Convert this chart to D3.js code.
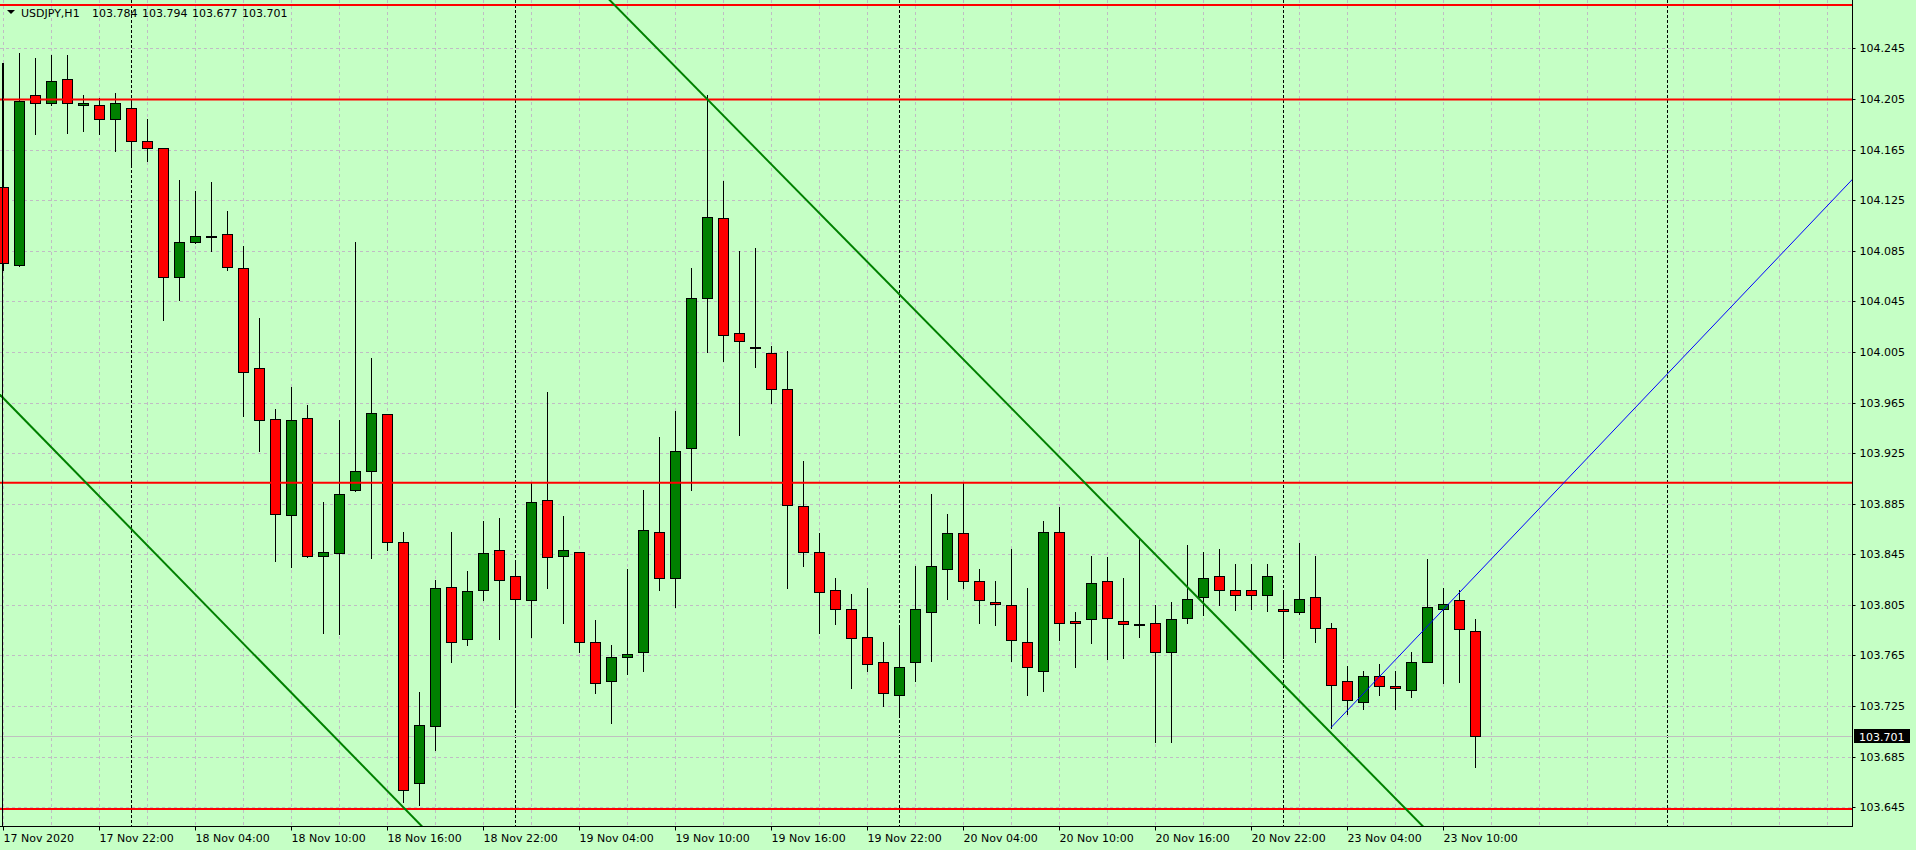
<!DOCTYPE html>
<html><head><meta charset="utf-8">
<script src="https://cdn.jsdelivr.net/npm/d3@7"></script>
<style>
html,body{margin:0;padding:0;background:#c5ffc5;overflow:hidden}
svg{display:block;font-family:"DejaVu Sans",sans-serif;font-size:11px}
</style></head><body>
<svg id="c" width="1916" height="850"></svg>
<script>
// ---------------- data ----------------
const symbol = "USDJPY,H1";
const headerValues = ["103.784", "103.794", "103.677", "103.701"];
const firstBarTime = Date.UTC(2020, 10, 17, 16); // 17 Nov 2020 16:00

const openP = [104.135,104.074,104.208,104.202,104.221,104.200,104.200,104.189,104.198,104.172,
104.166,104.064,104.092,104.097,104.098,104.071,103.992,103.952,103.876,103.953,
103.844,103.846,103.896,103.911,103.956,103.855,103.664,103.709,103.819,103.778,
103.817,103.848,103.828,103.809,103.888,103.844,103.847,103.776,103.745,103.764,
103.768,103.863,103.826,103.929,104.048,104.111,104.020,104.009,104.004,103.976,
103.883,103.847,103.817,103.802,103.780,103.760,103.734,103.760,103.799,103.833,
103.862,103.824,103.807,103.805,103.776,103.753,103.863,103.792,103.794,103.824,
103.792,103.790,103.791,103.768,103.795,103.811,103.828,103.817,103.817,103.813,
103.802,103.799,103.811,103.787,103.745,103.728,103.749,103.741,103.738,103.760,
103.802,103.809,103.784];
const highP = [104.233,104.241,104.237,104.240,104.240,104.208,104.206,104.210,104.204,104.189,
104.166,104.141,104.132,104.139,104.116,104.089,104.032,103.960,103.977,103.963,
103.886,103.951,104.092,104.000,103.956,103.863,103.736,103.825,103.863,103.832,
103.871,103.874,103.840,103.901,103.973,103.875,103.847,103.793,103.773,103.833,
103.896,103.938,103.958,104.071,104.208,104.140,104.085,104.087,104.010,104.006,
103.919,103.862,103.826,103.814,103.818,103.776,103.788,103.836,103.893,103.877,
103.901,103.833,103.824,103.849,103.818,103.871,103.882,103.799,103.844,103.843,
103.826,103.858,103.805,103.807,103.852,103.847,103.849,103.837,103.837,103.837,
103.817,103.854,103.844,103.791,103.757,103.753,103.758,103.753,103.768,103.841,
103.818,103.817,103.794];
const lowP = [104.070,104.073,104.177,104.200,104.178,104.180,104.177,104.164,104.151,104.156,
104.030,104.046,104.091,104.085,104.070,103.954,103.927,103.840,103.835,103.843,
103.783,103.782,103.895,103.842,103.848,103.649,103.647,103.690,103.760,103.773,
103.809,103.778,103.726,103.780,103.818,103.791,103.768,103.735,103.712,103.750,
103.753,103.817,103.803,103.896,104.005,103.998,103.939,103.993,103.965,103.818,
103.836,103.783,103.790,103.739,103.753,103.725,103.719,103.745,103.761,103.810,
103.818,103.791,103.789,103.761,103.734,103.737,103.777,103.756,103.775,103.762,
103.763,103.780,103.697,103.697,103.791,103.797,103.805,103.801,103.802,103.800,
103.763,103.798,103.776,103.708,103.719,103.723,103.734,103.723,103.732,103.760,
103.743,103.744,103.677];
const closeP = [104.075,104.203,104.202,104.219,104.202,104.202,104.189,104.202,104.172,104.166,
104.064,104.092,104.097,104.097,104.072,103.989,103.951,103.877,103.951,103.844,
103.847,103.893,103.911,103.957,103.855,103.659,103.710,103.818,103.776,103.816,
103.846,103.825,103.810,103.886,103.843,103.848,103.776,103.743,103.764,103.766,
103.864,103.826,103.927,104.048,104.112,104.018,104.014,104.009,103.976,103.884,
103.847,103.815,103.802,103.779,103.758,103.735,103.756,103.802,103.836,103.862,
103.824,103.809,103.806,103.777,103.756,103.863,103.791,103.791,103.822,103.795,
103.790,103.790,103.768,103.794,103.810,103.826,103.817,103.813,103.813,103.828,
103.800,103.810,103.787,103.742,103.730,103.749,103.741,103.739,103.760,103.803,
103.806,103.786,103.701];

const xTickLabels = ["17 Nov 2020","17 Nov 22:00","18 Nov 04:00","18 Nov 10:00","18 Nov 16:00",
"18 Nov 22:00","19 Nov 04:00","19 Nov 10:00","19 Nov 16:00","19 Nov 22:00","20 Nov 04:00",
"20 Nov 10:00","20 Nov 16:00","20 Nov 22:00","23 Nov 04:00","23 Nov 10:00"];
const xTickEvery = 6; // bars between labels
const yTickValues = [104.245,104.205,104.165,104.125,104.085,104.045,104.005,103.965,
103.925,103.885,103.845,103.805,103.765,103.725,103.685,103.645];

const hLevels = [104.2792, 104.2045, 103.9016, 103.6437];
const trendABars = [-0.02, 24.71], trendAPrices = [103.969, 103.649];
const trendBBars = [42.83, 85.86], trendBPrices = [104.220, 103.667];
const rayBars = [83, 91], rayPrices = [103.708, 103.8144];
const bidPrice = 103.701;

// ---------------- layout ----------------
const W = 1916, H = 850;
const plotR = 1852, plotB = 826;
const barPx = 16, firstCenterPx = 3;
const nVisibleBars = (plotR - firstCenterPx) / barPx;

const svg = d3.select("#c");
const x = d3.scaleLinear().domain([-firstCenterPx / barPx, nVisibleBars]).range([0, plotR]);
const y = d3.scaleLinear().domain([103.6302, 104.2832]).range([plotB, 0]);
const cx = i => Math.round(x(i));
const cy = p => Math.round(y(p));

const nBars = openP.length;
// bar times (hourly, skipping weekend)
const barTimes = [];
{ let t = firstBarTime; const maxBar = Math.ceil(nVisibleBars);
  for (let i = 0; i <= maxBar; i++) {
    barTimes.push(new Date(t));
    t += 3600e3;
    let d = new Date(t);
    while (d.getUTCDay() === 6 || d.getUTCDay() === 0) { t += 3600e3; d = new Date(t); }
  } }

svg.append("rect").attr("width", W).attr("height", H).attr("fill", "#c5ffc5");

const defs = svg.append("defs");
defs.append("clipPath").attr("id", "plotclip").append("rect")
  .attr("x", 0).attr("y", 0).attr("width", plotR).attr("height", plotB);

const plot = svg.append("g").attr("clip-path", "url(#plotclip)");

// grid
const gridColor = "#c0bcc4";
const vGrid = d3.range(0, Math.floor(nVisibleBars) + 1, 3);
plot.append("g").selectAll("line").data(vGrid).join("line")
  .attr("x1", d => cx(d) + 0.5).attr("x2", d => cx(d) + 0.5)
  .attr("y1", 0).attr("y2", plotB)
  .attr("stroke", gridColor).attr("stroke-dasharray", "3,3");
plot.append("g").selectAll("line").data(yTickValues).join("line")
  .attr("y1", d => cy(d) + 0.5).attr("y2", d => cy(d) + 0.5)
  .attr("x1", 0).attr("x2", plotR)
  .attr("stroke", gridColor).attr("stroke-dasharray", "3,3");

// period separators (midnight)
const sepBars = barTimes.map((t, i) => [t, i]).filter(([t]) => t.getUTCHours() === 0).map(d => d[1]);
plot.append("g").selectAll("line").data(sepBars).join("line")
  .attr("x1", d => cx(d) + 0.5).attr("x2", d => cx(d) + 0.5)
  .attr("y1", 0).attr("y2", plotB)
  .attr("stroke", "#000").attr("stroke-dasharray", "3,2");

// bid line
plot.append("line").attr("x1", 0).attr("x2", plotR)
  .attr("y1", cy(bidPrice) + 0.5).attr("y2", cy(bidPrice) + 0.5)
  .attr("stroke", "#c0c0c0");

// candles
const idx = d3.range(nBars);
const cg = plot.append("g").attr("shape-rendering", "crispEdges");
cg.selectAll("line.w").data(idx).join("line").attr("class", "w")
  .attr("x1", i => cx(i) + 0.5).attr("x2", i => cx(i) + 0.5)
  .attr("y1", i => cy(highP[i])).attr("y2", i => cy(lowP[i]) + 1)
  .attr("stroke", "#000");
cg.selectAll("rect.b").data(idx.filter(i => openP[i] !== closeP[i])).join("rect").attr("class", "b")
  .attr("x", i => cx(i) - 4.5).attr("width", 10)
  .attr("y", i => cy(Math.max(openP[i], closeP[i])) + 0.5)
  .attr("height", i => Math.max(1, cy(Math.min(openP[i], closeP[i])) - cy(Math.max(openP[i], closeP[i]))))
  .attr("fill", i => closeP[i] > openP[i] ? "#008000" : "#ff0000")
  .attr("stroke", "#000");
cg.selectAll("line.d").data(idx.filter(i => openP[i] === closeP[i])).join("line").attr("class", "d")
  .attr("x1", i => cx(i) - 5).attr("x2", i => cx(i) + 6)
  .attr("y1", i => cy(openP[i]) + 0.5).attr("y2", i => cy(openP[i]) + 0.5)
  .attr("stroke", "#000").attr("stroke-width", 2);

// horizontal levels
plot.append("g").selectAll("line").data(hLevels).join("line")
  .attr("x1", 0).attr("x2", plotR)
  .attr("y1", d => y(d)).attr("y2", d => y(d))
  .attr("stroke", "#ff0000").attr("stroke-width", 2);

// trend lines
function lineThrough(bars, prices, fromBar, toBar) {
  const s = (prices[1] - prices[0]) / (bars[1] - bars[0]);
  const f = b => prices[0] + s * (b - bars[0]);
  return [[x(fromBar), y(f(fromBar))], [x(toBar), y(f(toBar))]];
}
const [xd0, xd1] = x.domain();
const tl = [
  { pts: lineThrough(trendABars, trendAPrices, xd0 - 5, xd1 + 5), c: "#008000", w: 2 },
  { pts: lineThrough(trendBBars, trendBPrices, xd0 - 5, xd1 + 5), c: "#008000", w: 2 },
  { pts: lineThrough(rayBars, rayPrices, rayBars[0], xd1 + 5), c: "#0000ff", w: 1 }
];
plot.append("g").selectAll("line").data(tl).join("line")
  .attr("x1", d => d.pts[0][0]).attr("y1", d => d.pts[0][1])
  .attr("x2", d => d.pts[1][0]).attr("y2", d => d.pts[1][1])
  .attr("stroke", d => d.c).attr("stroke-width", d => d.w);

// left frame
svg.append("line").attr("x1", 2.5).attr("x2", 2.5).attr("y1", cy(highP[0])).attr("y2", plotB)
  .attr("stroke", "#000");

// axes
const yAxis = d3.axisRight(y).tickValues(yTickValues).tickSize(3).tickSizeOuter(0).tickPadding(4)
  .tickFormat(d3.format(".3f"));
const gy = svg.append("g").attr("transform", `translate(${plotR + 0.5},0)`).call(yAxis);
gy.select(".domain").attr("d", `M0,0V${plotB + 0.5}`).attr("stroke", "#000");
gy.selectAll(".tick line").attr("stroke", "#000");
gy.selectAll(".tick").attr("transform", d => `translate(0,${cy(d) + 0.5})`);
gy.selectAll("text").attr("fill", "#000").attr("font-size", 11).attr("font-family", '"DejaVu Sans",sans-serif');

const xTickBars = xTickLabels.map((_, k) => k * xTickEvery);
const xAxis = d3.axisBottom(x).tickValues(xTickBars).tickSize(4).tickSizeOuter(0).tickPadding(4)
  .tickFormat((d, k) => xTickLabels[k]);
const gx = svg.append("g").attr("transform", `translate(0,${plotB + 0.5})`).call(xAxis);
gx.select(".domain").attr("d", `M0,0H${plotR + 1}`).attr("stroke", "#000");
gx.selectAll(".tick").attr("transform", d => `translate(${cx(d) + 0.5},0)`);
gx.selectAll(".tick line").attr("stroke", "#000");
gx.selectAll("text").attr("fill", "#000").attr("text-anchor", "start").attr("x", 0)
  .attr("font-size", 11).attr("font-family", '"DejaVu Sans",sans-serif');

// current price label
const by = cy(bidPrice);
svg.append("rect").attr("x", plotR + 2).attr("y", by - 7).attr("width", 56).attr("height", 14).attr("fill", "#000");
svg.append("text").attr("x", plotR + 7).attr("y", by + 4.5).attr("fill", "#fff")
  .attr("font-size", 11).text(d3.format(".3f")(bidPrice));

// header
svg.append("path").attr("d", "M7,10L15,10L11,14Z").attr("fill", "#000");
svg.append("text").attr("x", 21).attr("y", 16.5).attr("fill", "#000").text(symbol);
svg.append("g").selectAll("text").data(headerValues).join("text")
  .attr("x", (d, k) => 92 + k * 50).attr("y", 16.5).attr("fill", "#000").text(d => d);
</script>
</body></html>
